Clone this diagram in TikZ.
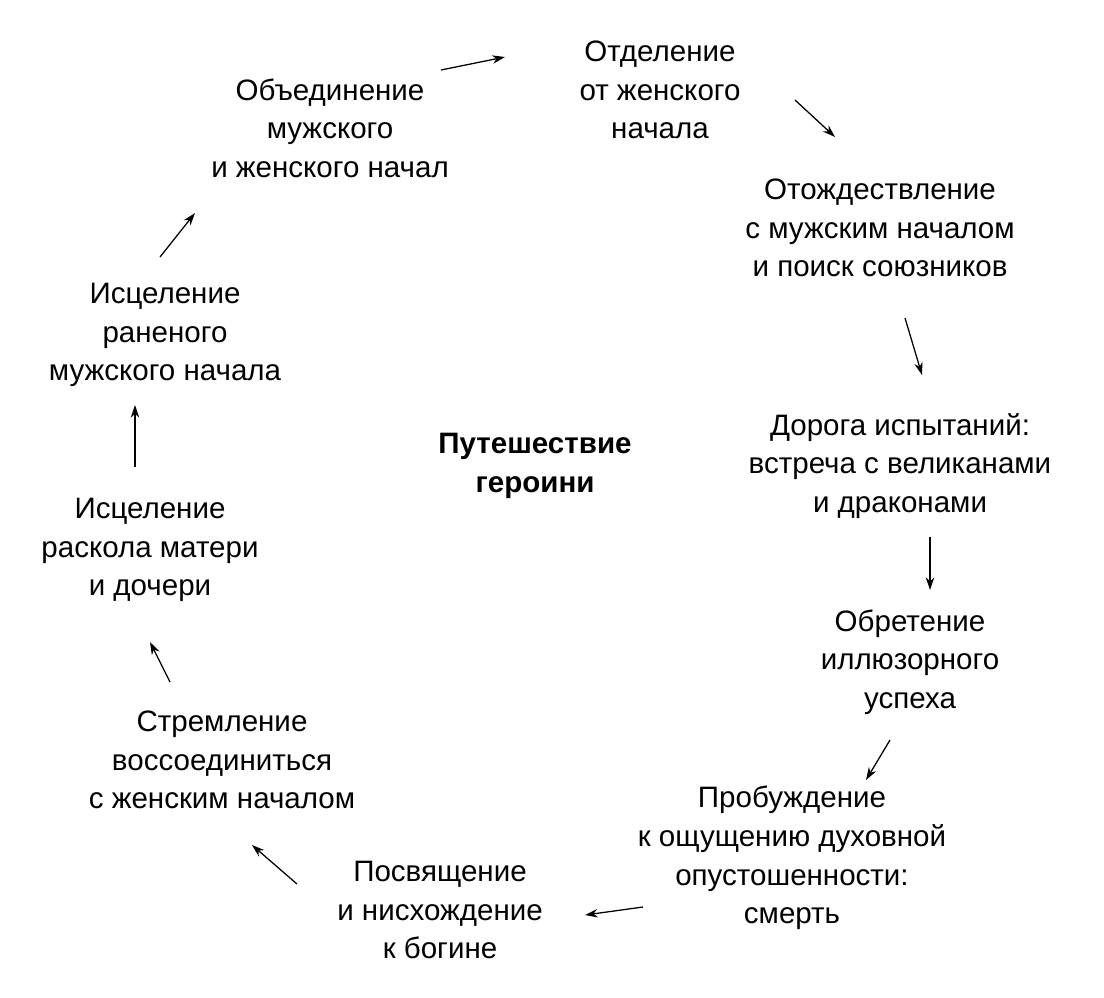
\documentclass[tikz,border=0pt]{standalone}
\usepackage{fontspec}
\setmainfont{Liberation Sans}
\usetikzlibrary{arrows.meta,positioning}

\begin{document}
\begin{tikzpicture}[x=0.025cm,y=-0.025cm,
    stage/.style={align=center,inner sep=2pt,font=\fontsize{21}{27.5}\selectfont},
    link/.style={-{Stealth[length=9pt,width=6pt]},line width=0.9pt},
   ]
    \useasboundingbox (0,0) rectangle (1104,998);

    \node (unite)   [stage] at (330,128) {Объединение\\мужского\\и женского начал};
    \node (split)   [stage] at (660,90)  {Отделение\\от женского\\начала};
    \node (ident)   [stage] at (880,228) {Отождествление\\с мужским началом\\и поиск союзников};
    \node (road)    [stage] at (900,466) {Дорога испытаний:\\встреча с великанами\\и драконами};
    \node (success) [stage] at (910,662) {Обретение\\иллюзорного\\успеха};
    \node (wake)    [stage] at (792,858) {Пробуждение\\к ощущению духовной\\опустошенности:\\смерть};
    \node (descent) [stage] at (440,910) {Посвящение\\и нисхождение\\к богине};
    \node (reunite) [stage] at (222,760) {Стремление\\воссоединиться\\с женским началом};
    \node (mother)  [stage] at (150,550) {Исцеление\\раскола матери\\и дочери};
    \node (wound)   [stage] at (165,335) {Исцеление\\раненого\\мужского начала};
    \node (title)   [stage,font=\fontsize{21}{27.5}\selectfont\bfseries] at (535,466) {Путешествие\\героини};

    \coordinate (a1) at (441,70);  \coordinate (b1) at (505,57);
    \coordinate (a2) at (795,100); \coordinate (b2) at (835,137);
    \coordinate (a3) at (905,318); \coordinate (b3) at (922,375);
    \coordinate (a4) at (930,537); \coordinate (b4) at (930,590);
    \coordinate (a5) at (890,740); \coordinate (b5) at (866,780);
    \coordinate (a6) at (643,907); \coordinate (b6) at (585,915);
    \coordinate (a7) at (297,884); \coordinate (b7) at (252,845);
    \coordinate (a8) at (170,682); \coordinate (b8) at (150,642);
    \coordinate (a9) at (135,467); \coordinate (b9) at (135,405);
    \coordinate (a10) at (160,257); \coordinate (b10) at (195,213);

    \foreach \i in {1,...,10}
        \draw[link] (a\i) -- (b\i);
\end{tikzpicture}
\end{document}
